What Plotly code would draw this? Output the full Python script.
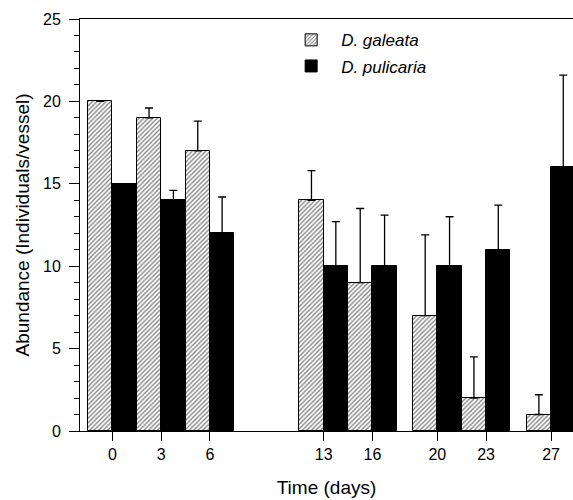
import plotly.graph_objects as go

days = [0, 3, 6, 13, 16, 20, 23, 27]
galeata = [20, 19, 17, 14, 9, 7, 2, 1]
galeata_err = [None, 0.6, 1.8, 1.8, 4.5, 4.9, 2.5, 1.2]
pulicaria = [15, 14, 12, 10, 10, 10, 11, 16]
pulicaria_err = [None, 0.6, 2.2, 2.7, 3.1, 3.0, 2.7, 5.6]
zeros = [0] * len(days)

FONT = "Liberation Sans, Arial, Helvetica, sans-serif"

fig = go.Figure()
fig.add_trace(go.Bar(
    x=days, y=galeata, name="<i>D. galeata</i>",
    marker=dict(color="white", line=dict(color="black", width=1),
                pattern=dict(shape="/", fgcolor="black", bgcolor="white",
                             size=3.2, solidity=0.4)),
    error_y=dict(type="data", array=galeata_err, arrayminus=zeros,
                 symmetric=False, color="black", thickness=1.3, width=4),
    legendgroup="a",
))
fig.add_trace(go.Bar(
    x=days, y=pulicaria, name="<i>D. pulicaria</i>",
    marker=dict(color="black", line=dict(color="black", width=1)),
    error_y=dict(type="data", array=pulicaria_err, arrayminus=zeros,
                 symmetric=False, color="black", thickness=1.3, width=4),
    legendgroup="b",
))

fig.update_layout(
    width=573, height=500,
    margin=dict(l=80, r=0, t=19, b=69),
    paper_bgcolor="white", plot_bgcolor="white",
    barmode="group", bargap=0, bargroupgap=0,
    font=dict(family=FONT, size=16, color="black"),
    showlegend=True,
    legend=dict(x=0.408, y=0.992, xanchor="left", yanchor="top",
                bgcolor="rgba(0,0,0,0)", tracegroupgap=1, itemwidth=50,
                font=dict(size=17)),
    xaxis=dict(
        range=[-2, 28.35], tickvals=days, ticktext=[str(d) for d in days],
        ticks="outside", ticklen=9, tickwidth=1, tickcolor="black",
        showline=True, linecolor="black", linewidth=1, mirror=True,
        showgrid=False, zeroline=False,
        title=dict(text="Time (days)", standoff=18),
    ),
    yaxis=dict(
        range=[0, 25], dtick=5, ticks="outside", ticklen=10, tickwidth=1,
        tickcolor="black", showline=True, linecolor="black", linewidth=1,
        showgrid=False, zeroline=False, ticklabelstandoff=5,
        minor=dict(dtick=1, ticks="outside", ticklen=5, tickcolor="black", showgrid=False),
        title=dict(text="Abundance (Individuals/vessel)", standoff=8),
    ),
)

fig.write_html("out.html")
